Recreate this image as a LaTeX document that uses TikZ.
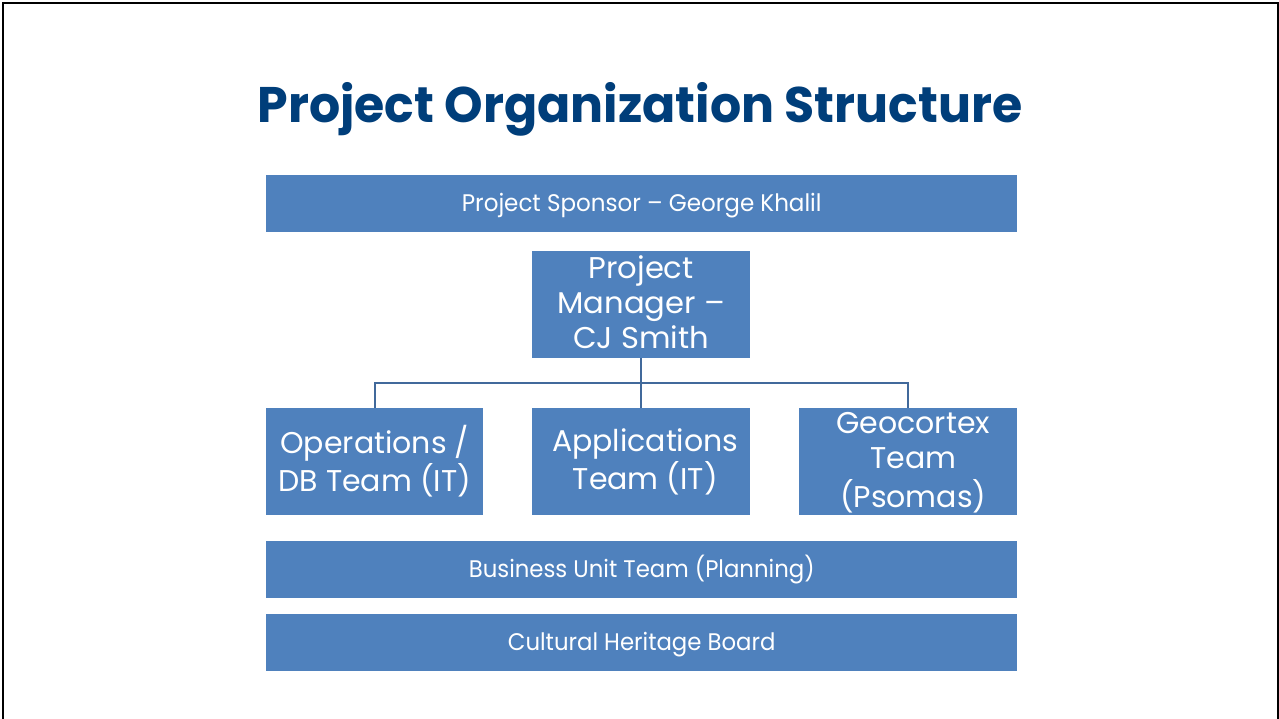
\documentclass[tikz,border=0pt]{standalone}
\usepackage{fontspec}
\setmainfont{Poppins}
\usepackage{graphicx}
\definecolor{boxblue}{RGB}{79,129,189}
\definecolor{titleblue}{RGB}{0,62,122}
\definecolor{linkblue}{RGB}{65,105,155}
\newcommand{\bxt}[2]{\scalebox{#1}[1]{\fontsize{24}{35}\selectfont\begin{tabular}{@{}c@{}}#2\end{tabular}}}
\newcommand{\bxm}[2]{\scalebox{#1}[1]{\fontsize{30}{35}\selectfont\begin{tabular}{@{}c@{}}#2\end{tabular}}}
\tikzset{
  orgbox/.style={fill=boxblue, draw=none, inner sep=0pt, anchor=north west},
  boxtext/.style={text=white, inner sep=0pt, anchor=center},
  link/.style={draw=linkblue, line width=2pt},
  frame/.style={draw=black, line width=2pt}
}
\begin{document}
\begin{tikzpicture}[x=1pt,y=-1pt]
\useasboundingbox (0,0) rectangle (1279,719);
\fill[white] (0,0) rectangle (1279,719);
\draw[frame] (3,719) -- (3,3.5) -- (1278,3.5) -- (1278,719);

\node[anchor=base, text=titleblue, inner sep=0pt] (title) at (640,123)
  {\scalebox{0.98}[1]{\fontsize{50}{60}\selectfont\bfseries Project Organization Structure}};

\node[orgbox, minimum width=751pt, minimum height=57pt] (sponsor) at (266,175) {};
\node[orgbox, minimum width=218pt, minimum height=107pt] (pm) at (532,251) {};
\node[orgbox, minimum width=217pt, minimum height=107pt] (ops) at (266,408) {};
\node[orgbox, minimum width=218pt, minimum height=107pt] (apps) at (532,408) {};
\node[orgbox, minimum width=218pt, minimum height=107pt] (geo) at (799,408) {};
\node[orgbox, minimum width=751pt, minimum height=57pt] (biz) at (266,541) {};
\node[orgbox, minimum width=751pt, minimum height=57pt] (chb) at (266,614) {};

\node[boxtext] (sponsorT) at ([yshift=-1pt]sponsor.center) {\bxt{0.96}{Project Sponsor – George Khalil}};
\node[boxtext] (pmT) at ([yshift=-2pt]pm.center) {\bxm{1.02}{Project\\Manager –\\CJ Smith}};
\node[boxtext] (opsT) at ([yshift=-2pt]ops.center) {\bxm{1.0}{Operations /\\DB Team (IT)}};
\node[boxtext] (appsT) at ([xshift=4pt,yshift=-2pt]apps.center) {\bxm{1.0}{Applications\\Team (IT)}};
\node[boxtext] (geoT) at ([xshift=5pt,yshift=-2pt]geo.center) {\bxm{1.0}{Geocortex\\Team\\(Psomas)}};
\node[boxtext] (bizT) at ([yshift=-1pt]biz.center) {\bxt{0.95}{Business Unit Team (Planning)}};
\node[boxtext] (chbT) at ([yshift=-1pt]chb.center) {\bxt{0.95}{Cultural Heritage Board}};

\coordinate (bus) at (641,383);
\draw[link] (pm.south) -- (apps.north);
\draw[link] (ops.north) -- (ops.north |- bus) -- (geo.north |- bus) -- (geo.north);
\end{tikzpicture}
\end{document}
